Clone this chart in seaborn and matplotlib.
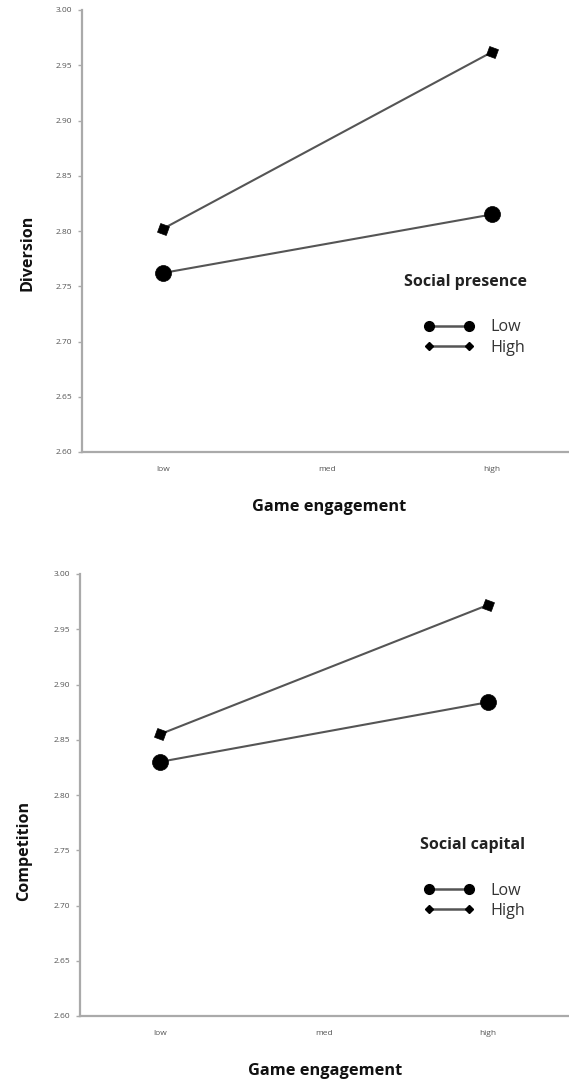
import matplotlib
matplotlib.use('Agg')
import matplotlib.pyplot as plt
import matplotlib.ticker as mticker
from matplotlib.lines import Line2D
import pandas as pd
import seaborn as sns

# data
levels = ['low', 'med', 'high']
measured = ['low', 'high']
groups = ['Low', 'High']

diversion_low = [2.762, 2.815]
diversion_high = [2.802, 2.962]
competition_low = [2.830, 2.884]
competition_high = [2.855, 2.972]

yticks = [2.60, 2.65, 2.70, 2.75, 2.80, 2.85, 2.90, 2.95, 3.00]

sns.set_style('white')
plt.rcParams['font.family'] = ['Open Sans', 'DejaVu Sans']

W, H = 569, 1082
fig = plt.figure(figsize=(W / 100, H / 100), dpi=100)


def make_df(low_vals, high_vals):
    rows = []
    for g, vals in zip(groups, [low_vals, high_vals]):
        for lv, v in zip(measured, vals):
            rows.append({'engagement': levels.index(lv), 'value': v, 'group': g})
    return pd.DataFrame(rows)


def panel(rect, xlim, df, ylabel):
    ax = fig.add_axes(rect)
    markers = {'Low': 'o', 'High': (4, 0, 25)}
    sizes = {'Low': 11.5, 'High': 9.5}
    for g in groups:
        sub = df[df['group'] == g]
        sns.lineplot(data=sub, x='engagement', y='value', ax=ax, color='#555555',
                     linewidth=1.5, marker=markers[g], markersize=sizes[g],
                     markerfacecolor='black', markeredgecolor='black',
                     markeredgewidth=0.5, legend=False, clip_on=False)
    ax.set_xlim(*xlim)
    ax.set_ylim(2.60, 3.00)
    ax.set_yticks(yticks)
    ax.yaxis.set_major_formatter(mticker.FormatStrFormatter('%.2f'))
    ax.set_xticks(range(len(levels)))
    ax.set_xticklabels(levels)
    ax.set_xticks([0.5, 1.5], minor=True)
    ax.tick_params(axis='x', which='major', length=0, pad=10, labelsize=6, labelcolor='#555555')
    ax.tick_params(axis='x', which='minor', length=3, width=1, color='#aaaaaa', direction='out')
    ax.tick_params(axis='y', length=3, width=1, color='#aaaaaa', pad=4, labelsize=6,
                   labelcolor='#555555', left=True)
    for side in ['top', 'right']:
        ax.spines[side].set_visible(False)
    for side in ['left', 'bottom']:
        ax.spines[side].set_color('#aaaaaa')
        ax.spines[side].set_linewidth(1.6)

    ax.set_xlabel('Game engagement', fontsize=11.8, fontweight='bold', color='#111111')
    ax.set_ylabel(ylabel, fontsize=11.6, fontweight='bold', color='#111111')
    ax.xaxis.label.set_va('center')
    ax.yaxis.label.set_va('center')
    return ax


# top panel
ax1 = panel([82 / W, (H - 452) / H, (W - 82) / W, 442 / H], (-0.492, 2.468),
            make_df(diversion_low, diversion_high), 'Diversion')
ax1.xaxis.set_label_coords((329 - 82) / 487, (452 - 507) / 442)
ax1.yaxis.set_label_coords((28 - 82) / 487, (452 - 253) / 442)

# bottom panel
ax2 = panel([80 / W, (H - 1016) / H, (W - 80) / W, 442 / H], (-0.488, 2.494),
            make_df(competition_low, competition_high), 'Competition')
ax2.xaxis.set_label_coords((325 - 80) / 489, (1016 - 1071) / 442)
ax2.yaxis.set_label_coords((24 - 80) / 489, (1016 - 851) / 442)

# legends
handles = [Line2D([], [], color='#555555', linewidth=1.8, marker='o', markersize=7,
                  markerfacecolor='black', markeredgecolor='black'),
           Line2D([], [], color='#555555', linewidth=1.8, marker='D', markersize=4.5,
                  markerfacecolor='black', markeredgecolor='black')]

for ax, title, ty, ly, tx in [(ax1, 'Social presence', 282, 337.5, 466),
                              (ax2, 'Social capital', 845, 901, 473)]:
    fig.text(tx / W, 1 - ty / H, title, ha='center', va='center', fontsize=11.5,
             fontweight='bold', color='#222222')
    ax.legend(handles, groups, loc='center left', bbox_to_anchor=(416 / W, 1 - ly / H),
              bbox_transform=fig.transFigure, frameon=False, numpoints=2,
              fontsize=11.6, handlelength=3.1, handletextpad=1.0, labelspacing=0.25,
              borderpad=0, labelcolor='#333333')

fig.savefig('out.png', dpi=100)
